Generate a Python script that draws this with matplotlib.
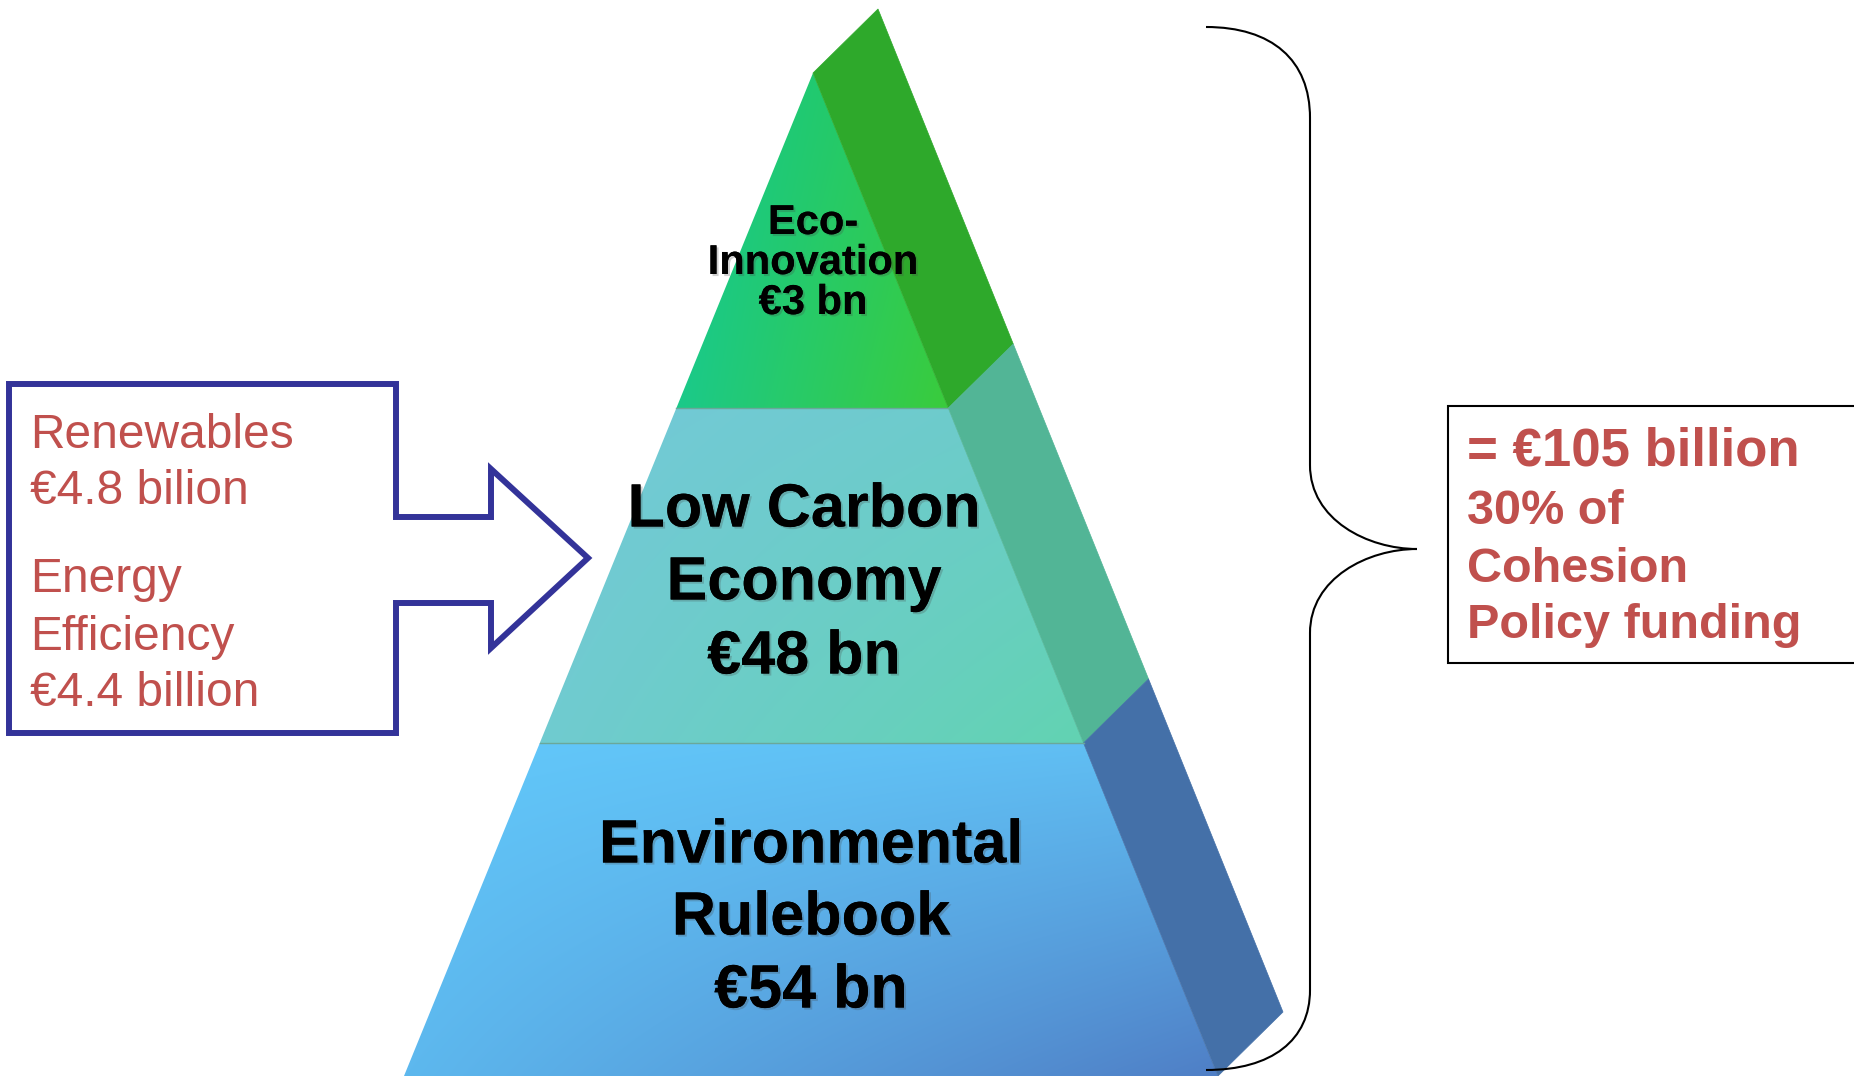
import matplotlib.pyplot as plt
import matplotlib.patheffects as pe
from matplotlib.patches import Polygon, Rectangle, PathPatch
from matplotlib.path import Path
from matplotlib.colors import to_rgb
import numpy as np

# Pyramid tiers, top to bottom
tier_names = ["Eco-\nInnovation", "Low Carbon\nEconomy", "Environmental\nRulebook"]
tier_values = ["€3 bn", "€48 bn", "€54 bn"]

# Breakdown of the low carbon tier
low_carbon_items = ["Renewables", "Energy\nEfficiency"]
low_carbon_amounts = ["€4.8 bilion", "€4.4 billion"]

total_label = "= €105 billion"
total_note = "30% of\nCohesion\nPolicy funding"

# colours: (front top-left, front top-right, front bottom-left, front bottom-right, side)
tier_colors = [
    ("#12C890", "#2FCB52", "#1BC98A", "#3ACC3C", "#2EA92B"),
    ("#74C9D9", "#6CCCC8", "#70CBD0", "#62D3B2", "#52B596"),
    ("#62C8FA", "#60BDF2", "#5DB8EE", "#4F7FC6", "#4470A8"),
]
red = "#C0504D"
navy = "#333399"

W, H = 1854, 1076
fig = plt.figure(figsize=(W / 100, H / 100), dpi=100)
ax = fig.add_axes([0, 0, 1, 1])
ax.set_xlim(0, W)
ax.set_ylim(H, 0)
ax.axis("off")

# pyramid geometry
apex = (813, 73)
base_y = 1076
base_l, base_r = 404, 1218
cuts = [73, 408, 743, 1076]
dx, dy = 65, -64


def left_x(y):
    return apex[0] + (base_l - apex[0]) * (y - apex[1]) / (base_y - apex[1])


def right_x(y):
    return apex[0] + (base_r - apex[0]) * (y - apex[1]) / (base_y - apex[1])


for i in range(3):
    y0, y1 = cuts[i], cuts[i + 1]
    c_tl, c_tr, c_bl, c_br, c_side = [np.array(to_rgb(c)) for c in tier_colors[i]]
    if i == 0:
        front = [(apex[0], y0), (right_x(y1), y1), (left_x(y1), y1)]
    else:
        front = [(left_x(y0), y0), (right_x(y0), y0), (right_x(y1), y1), (left_x(y1), y1)]
    side = [(right_x(y0), y0), (right_x(y0) + dx, y0 + dy),
            (right_x(y1) + dx, y1 + dy), (right_x(y1), y1)]

    # bilinear gradient for the front face
    xs0, xs1 = left_x(y1), right_x(y1)
    u = np.linspace(0, 1, 200)[None, :, None]
    v = np.linspace(0, 1, 200)[:, None, None]
    img = (c_tl * (1 - u) * (1 - v) + c_tr * u * (1 - v)
           + c_bl * (1 - u) * v + c_br * u * v)
    im = ax.imshow(img, extent=(xs0, xs1, y1, y0), zorder=1, interpolation="bilinear")
    fp = Polygon(front, closed=True, facecolor="none", edgecolor="none")
    ax.add_patch(fp)
    im.set_clip_path(fp)

    ax.add_patch(Polygon(side, closed=True, facecolor=c_side, edgecolor=c_side,
                         linewidth=0.5, zorder=2))
    if i > 0:
        ax.plot([left_x(y0), right_x(y0)], [y0, y0], color="#6AA89A", lw=1.0, zorder=3)

# texts on the pyramid, one line at a time
text_pos = [(813, [223, 263, 303], 30), (804, [511, 584, 658], 44), (811, [847, 919, 992], 44)]
for i, (x, ys, size) in enumerate(text_pos):
    lines = tier_names[i].split("\n") + [tier_values[i]]
    for line, y in zip(lines, ys):
        t = ax.text(x, y, line, ha="center", va="center", fontsize=size,
                    fontweight="bold", family="Liberation Sans", color="black", zorder=5)
        t.set_path_effects([pe.withSimplePatchShadow(offset=(1.5, -1.5),
                                                     shadow_rgbFace="#444444", alpha=0.25),
                            pe.Normal()])

# arrow-shaped callout on the left
callout = [(9, 384), (396, 384), (396, 517), (491, 517), (491, 469), (588, 558),
           (491, 648), (491, 603), (396, 603), (396, 733), (9, 733)]
ax.add_patch(Polygon(callout, closed=True, facecolor="none", edgecolor=navy,
                     linewidth=4.3, joinstyle="miter", zorder=6))

left_lines = [
    (low_carbon_items[0], 436),
    (low_carbon_amounts[0], 492),
    (low_carbon_items[1].split("\n")[0], 580),
    (low_carbon_items[1].split("\n")[1], 637),
    (low_carbon_amounts[1], 694),
]
for txt, y in left_lines:
    ax.text(30, y, txt, ha="left", va="center", fontsize=34.5, color=red,
            family="Liberation Sans", zorder=7)

# curly brace
verts = [(1206, 27), (1272, 27), (1310, 60), (1310, 118),
         (1310, 465),
         (1310, 520), (1368, 549), (1417, 549),
         (1368, 549), (1310, 578), (1310, 633),
         (1310, 990),
         (1310, 1040), (1272, 1070), (1206, 1070)]
codes = [Path.MOVETO, Path.CURVE4, Path.CURVE4, Path.CURVE4,
         Path.LINETO,
         Path.CURVE4, Path.CURVE4, Path.CURVE4,
         Path.CURVE4, Path.CURVE4, Path.CURVE4,
         Path.LINETO,
         Path.CURVE4, Path.CURVE4, Path.CURVE4]
ax.add_patch(PathPatch(Path(verts, codes), facecolor="none", edgecolor="black",
                       linewidth=1.5, zorder=6))

# total box on the right
ax.add_patch(Rectangle((1448, 406), 440, 257, facecolor="white", edgecolor="black",
                       linewidth=1.5, zorder=6, clip_on=False))
ax.text(1467, 451, total_label, ha="left", va="center", fontsize=38, fontweight="bold",
        color=red, family="Liberation Sans", zorder=7)
for j, line in enumerate(total_note.split("\n")):
    ax.text(1467, 512 + j * 57, line, ha="left", va="center", fontsize=35,
            fontweight="bold", color=red, family="Liberation Sans", zorder=7)

fig.savefig("out.png", dpi=100)
